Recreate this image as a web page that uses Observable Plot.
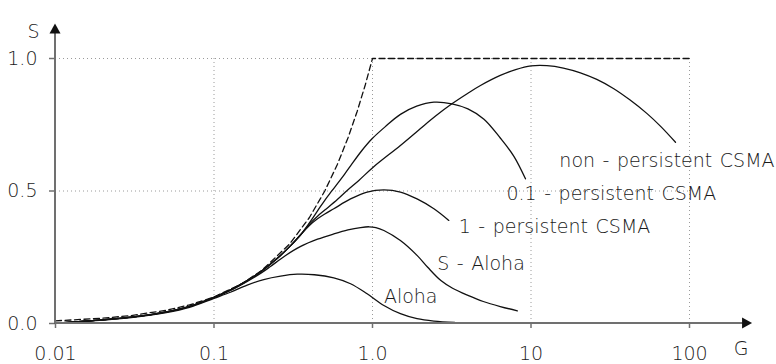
<!DOCTYPE html>
<html>
<head>
<meta charset="utf-8">
<script src="https://cdn.jsdelivr.net/npm/d3@7"></script>
<script src="https://cdn.jsdelivr.net/npm/@observablehq/plot@0.6"></script>
<style>
  html, body { margin: 0; padding: 0; background: #fff; }
  #chart svg { display: block; }
  #chart text { word-spacing: 1.5px; font-weight: 200; }
</style>
</head>
<body>
<div id="chart"></div>
<script>
// Throughput S versus offered load G (log scale) for random-access protocols.
// Each series is a list of [G, S] points.
const idealChannel = [[0.01,0.01],[0.02,0.02],[0.03,0.03],[0.05,0.05],[0.07,0.07],[0.1,0.1],[0.15,0.15],[0.2,0.2],[0.3,0.3],[0.4,0.4],[0.5,0.5],[0.6,0.6],[0.7,0.7],[0.8,0.8],[0.9,0.9],[1,1],[100,1]];

const pureAloha = [[0.01,0.002],[0.02,0.013],[0.03,0.022],[0.05,0.041],[0.07,0.061],[0.1,0.095],[0.127,0.118],[0.162,0.145],[0.206,0.166],[0.263,0.179],[0.335,0.186],[0.43,0.184],[0.57,0.172],[0.727,0.15],[0.925,0.112],[1.18,0.068],[1.5,0.037],[1.91,0.018],[2.44,0.009],[3.3,0.004]];

const slottedAloha = [[0.01,0.002],[0.02,0.014],[0.03,0.024],[0.05,0.043],[0.07,0.064],[0.1,0.098],[0.13,0.128],[0.16,0.157],[0.2,0.192],[0.227,0.215],[0.28,0.255],[0.35,0.29],[0.45,0.318],[0.57,0.338],[0.7,0.353],[0.84,0.362],[0.95,0.365],[1.05,0.362],[1.18,0.351],[1.5,0.313],[1.91,0.257],[2.23,0.212],[2.7,0.162],[3.2,0.133],[4,0.106],[5,0.083],[6.4,0.064],[8.2,0.048]];

const csmaLowLoad = [[0.01,0.002],[0.02,0.014],[0.03,0.024],[0.05,0.044],[0.07,0.065],[0.1,0.099],[0.13,0.13],[0.16,0.16],[0.2,0.198],[0.25,0.245],[0.3,0.29],[0.35,0.333]];

const persistent1 = [[0.4,0.37],[0.45,0.395],[0.5,0.413],[0.57,0.433],[0.727,0.47],[0.925,0.496],[1.18,0.504],[1.5,0.496],[1.91,0.47],[2.44,0.433],[3.03,0.389]];

const persistent01 = [[0.4,0.38],[0.45,0.425],[0.5,0.465],[0.557,0.502],[0.669,0.565],[0.727,0.595],[0.85,0.65],[0.993,0.697],[1.2,0.742],[1.5,0.789],[1.9,0.82],[2.44,0.835],[3.17,0.829],[4,0.81],[5.05,0.771],[6.4,0.7],[7.8,0.631],[9.23,0.546]];

const nonPersistent = [[0.4,0.375],[0.45,0.405],[0.5,0.428],[0.6,0.468],[0.692,0.502],[0.82,0.54],[1.01,0.59],[1.5,0.672],[2,0.735],[2.5,0.783],[3.17,0.829],[4,0.869],[4.8,0.898],[6.4,0.936],[8,0.958],[10,0.972],[12.6,0.973],[16,0.964],[20.5,0.946],[26,0.921],[33.3,0.886],[42,0.844],[54,0.792],[66,0.743],[81.6,0.684]];

// Curve annotations, anchored at their left edge
const curveLabels = [
  {G: 15.1, S: 0.612, label: "non - persistent CSMA"},
  {G: 7.0,  S: 0.49,  label: "0.1 - persistent CSMA"},
  {G: 3.5,  S: 0.363, label: "1 - persistent CSMA"},
  {G: 2.56, S: 0.225, label: "S - Aloha"},
  {G: 1.18, S: 0.099, label: "Aloha"}
];

// Axis ticks and labels
const xTicks = [0.01, 0.1, 1, 10, 100];
const xTickLabels = ["0.01", "0.1", "1.0", "10", "100"];
const yTicks = [0, 0.5, 1];
const yTickLabels = ["0.0", "0.5", "1.0"];
const xGrid = [0.1, 1, 10, 100];
const yGrid = [0.5, 1];

// Axis extents (data units), beyond the plotted domain for the arrows
const axisG = [0.01, 250];
const axisS = [0, 1.13];

const toRows = (name, pts) => pts.map(([G, S]) => ({series: name, G, S}));
const solidRows = [
  ...toRows("Aloha", pureAloha),
  ...toRows("S - Aloha", slottedAloha),
  ...toRows("1 - persistent CSMA", [...csmaLowLoad, ...persistent1]),
  ...toRows("0.1 - persistent CSMA", [...csmaLowLoad, ...persistent01]),
  ...toRows("non - persistent CSMA", [...csmaLowLoad, ...nonPersistent])
];
const idealRows = toRows("ideal", idealChannel);

const axisColor = "#707070";
const headColor = "#111";
const textColor = "#1a1a1a";
const fontSize = 19;

// Axis lines with filled arrowheads
function axesWithArrows(index, {x, y}) {
  const head = 10, half = 5.5;
  const x0 = x(axisG[0]), x1 = x(axisG[1]);
  const y0 = y(axisS[0]), y1 = y(axisS[1]);
  const g = d3.create("svg:g");
  g.append("line").attr("x1", x0).attr("x2", x1 - head + 1).attr("y1", y0).attr("y2", y0)
    .attr("stroke", axisColor).attr("stroke-width", 2);
  g.append("line").attr("x1", x0).attr("x2", x0).attr("y1", y0).attr("y2", y1 + head - 1)
    .attr("stroke", axisColor).attr("stroke-width", 2);
  g.append("path").attr("fill", headColor)
    .attr("d", `M${x1},${y0}L${x1 - head},${y0 - half}L${x1 - head},${y0 + half}Z`);
  g.append("path").attr("fill", headColor)
    .attr("d", `M${x0},${y1}L${x0 - half},${y1 + head}L${x0 + half},${y1 + head}Z`);
  return g.node();
}

const chart = Plot.plot({
  width: 776,
  height: 364,
  marginLeft: 55,
  marginRight: 87,
  marginTop: 58,
  marginBottom: 41,
  style: {fontFamily: "'DejaVu Sans', 'Liberation Sans', sans-serif", fontSize: `${fontSize}px`, color: textColor, background: "#fff"},
  x: {type: "log", domain: [0.01, 100], axis: null},
  y: {domain: [0, 1], axis: null},
  marks: [
    Plot.ruleX(xGrid, {y1: 0, y2: 1, stroke: "#9a9a9a", strokeDasharray: "1,3", strokeWidth: 1}),
    Plot.ruleY(yGrid, {x1: 0.01, x2: 100, stroke: "#9a9a9a", strokeDasharray: "1,3", strokeWidth: 1}),
    Plot.axisX(xTicks, {
      tickSize: 5, tickPadding: 18, stroke: axisColor, strokeWidth: 1.5, fill: textColor,
      fontSize, label: null, tickFormat: d => xTickLabels[xTicks.indexOf(d)]
    }),
    Plot.axisY(yTicks, {
      tickSize: 6, tickPadding: 12, stroke: axisColor, strokeWidth: 1.5, fill: textColor,
      fontSize, label: null, tickFormat: d => yTickLabels[yTicks.indexOf(d)]
    }),
    Plot.line(idealRows, {x: "G", y: "S", stroke: "#111", strokeWidth: 1.3, strokeDasharray: "6,3.5"}),
    Plot.line(solidRows, {x: "G", y: "S", z: "series", stroke: "#111", strokeWidth: 1.3, curve: "catmull-rom"}),
    Plot.text(curveLabels, {x: "G", y: "S", text: "label", textAnchor: "start", fill: textColor, fontSize}),
    Plot.text(["S"], {frameAnchor: "top-left", dx: -28, dy: -34, fill: textColor, fontSize}),
    Plot.text(["G"], {frameAnchor: "bottom-right", dx: 59, dy: 31, fill: textColor, fontSize}),
    axesWithArrows
  ]
});

document.getElementById("chart").appendChild(chart);
</script>
</body>
</html>
